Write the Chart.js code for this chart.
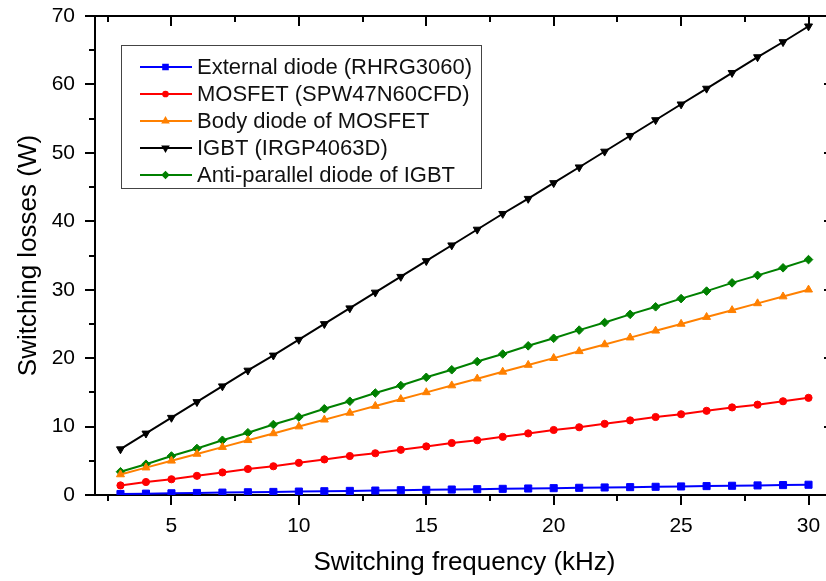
<!DOCTYPE html>
<html>
<head>
<meta charset="utf-8">
<script src="https://cdn.jsdelivr.net/npm/chart.js@4"></script>
<style>
  html, body { margin: 0; padding: 0; background: #fff; overflow: hidden; }
  #wrap { width: 840px; height: 581px; }
</style>
</head>
<body>
<div id="wrap"><canvas id="lossChart" width="840" height="581"></canvas></div>
<script>
// switching frequency in kHz
const freq = [3, 4, 5, 6, 7, 8, 9, 10, 11, 12, 13, 14, 15, 16, 17, 18, 19, 20,
  21, 22, 23, 24, 25, 26, 27, 28, 29, 30];

// switching losses in W
const externalDiode = [0.15, 0.2, 0.25, 0.3, 0.35, 0.4, 0.45, 0.5, 0.55, 0.6, 0.65, 0.7,
  0.75, 0.8, 0.85, 0.9, 0.95, 1.0, 1.05, 1.1, 1.15, 1.2, 1.25, 1.3, 1.35, 1.4, 1.45, 1.5];
const mosfet = [1.4, 1.9, 2.3, 2.8, 3.3, 3.8, 4.2, 4.7, 5.2, 5.7, 6.1, 6.6, 7.1, 7.6,
  8.0, 8.5, 9.0, 9.5, 9.9, 10.4, 10.9, 11.4, 11.8, 12.3, 12.8, 13.2, 13.7, 14.2];
const bodyDiode = [3.0, 4.0, 5.0, 6.0, 7.0, 8.0, 9.0, 10.0, 11.0, 12.0, 13.0, 14.0, 15.0,
  16.0, 17.0, 18.0, 19.0, 20.0, 21.0, 22.0, 23.0, 24.0, 25.0, 26.0, 27.0, 28.0, 29.0, 30.0];
const igbt = [6.7, 9.0, 11.3, 13.6, 15.9, 18.2, 20.4, 22.7, 25.0, 27.3, 29.6, 31.9, 34.2,
  36.5, 38.8, 41.1, 43.3, 45.6, 47.9, 50.2, 52.5, 54.8, 57.1, 59.4, 61.7, 64.0, 66.2, 68.5];
const antiParallel = [3.4, 4.5, 5.7, 6.8, 8.0, 9.1, 10.3, 11.4, 12.6, 13.7, 14.9, 16.0,
  17.2, 18.3, 19.5, 20.6, 21.8, 22.9, 24.1, 25.2, 26.4, 27.5, 28.7, 29.8, 31.0, 32.1, 33.2, 34.4];

const seriesLabels = ['External diode (RHRG3060)', 'MOSFET (SPW47N60CFD)',
  'Body diode of MOSFET', 'IGBT (IRGP4063D)', 'Anti-parallel diode of IGBT'];
const xTickLabels = [5, 10, 15, 20, 25, 30];
const yTickLabels = [0, 10, 20, 30, 40, 50, 60, 70];

const FONT = "'Liberation Sans', Arial, sans-serif";

function pts(ys) {
  return freq.map((f, i) => ({ x: f, y: ys[i] }));
}

function series(label, ys, color, style, radius, rotation) {
  return {
    label: label,
    data: pts(ys),
    borderColor: color,
    backgroundColor: color,
    borderWidth: 2,
    pointStyle: style,
    pointRadius: radius,
    pointRotation: rotation || 0,
    pointBorderWidth: 1,
    pointHoverRadius: radius,
    tension: 0
  };
}

// frame + outward/inward tick marks like the original plot
const frameTicks = {
  id: 'frameTicks',
  afterDraw(chart) {
    const ctx = chart.ctx, a = chart.chartArea;
    const xs = chart.scales.x, ys = chart.scales.y;
    ctx.save();
    ctx.strokeStyle = '#000';
    ctx.lineWidth = 2;
    ctx.beginPath();
    ctx.moveTo(a.left - 1, a.top); ctx.lineTo(a.right, a.top);
    ctx.moveTo(a.right, a.top); ctx.lineTo(a.right, a.bottom);
    ctx.stroke();
    ctx.beginPath();
    xs.ticks.forEach(t => {
      const px = Math.round(xs.getPixelForValue(t.value));
      const len = (t.value % 5 === 0) ? 10 : 6;
      ctx.moveTo(px, a.bottom); ctx.lineTo(px, a.bottom + len);
      ctx.moveTo(px, a.top); ctx.lineTo(px, a.top + len);
    });
    ys.ticks.forEach(t => {
      const py = Math.round(ys.getPixelForValue(t.value));
      const len = (t.value % 10 === 0) ? 10 : 6;
      ctx.moveTo(a.left, py); ctx.lineTo(a.left - len, py);
      ctx.moveTo(a.right, py); ctx.lineTo(a.right - len, py);
    });
    ctx.stroke();
    ctx.restore();
  }
};

// boxed legend with line + marker samples
const boxLegend = {
  id: 'boxLegend',
  afterDraw(chart) {
    const ctx = chart.ctx;
    const bx = 121, by = 45, bw = 360, bh = 143;
    ctx.save();
    ctx.fillStyle = '#fff';
    ctx.fillRect(bx, by, bw, bh);
    ctx.strokeStyle = '#444';
    ctx.lineWidth = 1;
    ctx.strokeRect(bx + 0.5, by + 0.5, bw, bh);
    ctx.font = '22px ' + FONT;
    ctx.textBaseline = 'middle';
    ctx.textAlign = 'left';
    chart.data.datasets.forEach((ds, i) => {
      const y = 67 + i * 27;
      ctx.strokeStyle = ds.borderColor;
      ctx.lineWidth = 2;
      ctx.beginPath();
      ctx.moveTo(140, y); ctx.lineTo(192, y);
      ctx.stroke();
      ctx.fillStyle = ds.borderColor;
      Chart.helpers.drawPoint(ctx, {
        pointStyle: ds.pointStyle, radius: ds.pointRadius * 0.65,
        rotation: ds.pointRotation, borderWidth: 1
      }, 165.5, y);
      ctx.fillStyle = '#111';
      ctx.fillText(ds.label, 197, y + 1);
    });
    ctx.restore();
  }
};

new Chart(document.getElementById('lossChart'), {
  type: 'line',
  data: {
    datasets: [
      series(seriesLabels[0], externalDiode, '#0000ff', 'rect', 5),
      series(seriesLabels[1], mosfet, '#ff0000', 'circle', 3.6),
      series(seriesLabels[2], bodyDiode, '#ff8000', 'triangle', 4.6),
      series(seriesLabels[3], igbt, '#000000', 'triangle', 4.6, 180),
      series(seriesLabels[4], antiParallel, '#008000', 'rectRot', 4.3)
    ]
  },
  options: {
    responsive: false,
    animation: false,
    events: [],
    layout: { padding: { left: 0, top: 16, right: 5.5, bottom: 0 } },
    plugins: { legend: { display: false }, tooltip: { enabled: false } },
    scales: {
      x: {
        type: 'linear',
        min: 2, max: 31,
        grid: { display: false },
        border: { display: true, color: '#000', width: 2 },
        afterBuildTicks(scale) {
          const t = [];
          for (let v = 2.5; v <= 31; v += 2.5) t.push({ value: v });
          scale.ticks = t;
        },
        ticks: {
          autoSkip: false,
          maxRotation: 0,
          padding: 11,
          color: '#000',
          font: { size: 21, family: FONT },
          callback: v => xTickLabels.includes(v) ? String(v) : ''
        },
        title: {
          display: true,
          text: 'Switching frequency (kHz)',
          color: '#000',
          font: { size: 26, family: FONT },
          padding: { top: 0, bottom: 3 }
        },
        afterFit(scale) {
          scale.height = 86;
          scale.paddingLeft = 0;
          scale.paddingRight = 0;
        }
      },
      y: {
        min: 0, max: 70,
        grid: { display: false },
        border: { display: true, color: '#000', width: 2 },
        ticks: {
          stepSize: 5,
          autoSkip: false,
          padding: 12,
          color: '#000',
          font: { size: 21, family: FONT },
          callback: v => yTickLabels.includes(v) ? String(v) : ''
        },
        title: {
          display: true,
          text: 'Switching losses (W)',
          color: '#000',
          font: { size: 26, family: FONT },
          padding: { top: 13, bottom: 0 }
        },
        afterFit(scale) {
          scale.width = 95;
          scale.paddingTop = 0;
          scale.paddingBottom = 0;
        }
      }
    }
  },
  plugins: [frameTicks, boxLegend]
});
</script>
</body>
</html>
